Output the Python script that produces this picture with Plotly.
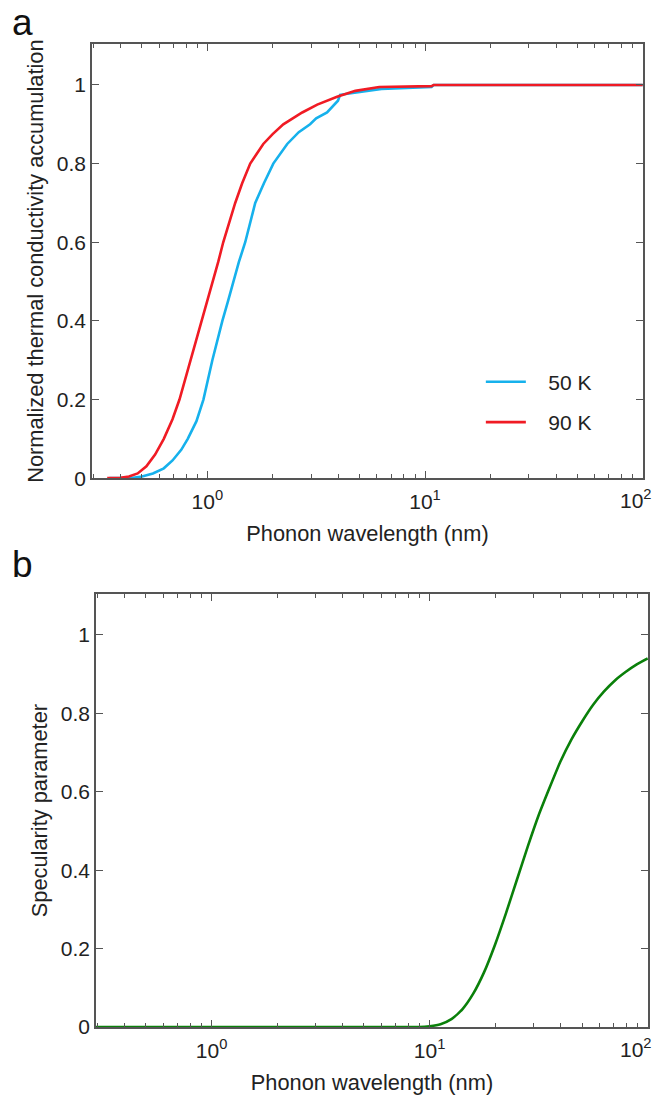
import plotly.graph_objects as go

# ---- Data ----
# Panel a: normalized thermal conductivity accumulation vs phonon wavelength (log10 nm)
logx_50K = [-0.45, -0.35, -0.30, -0.25, -0.20, -0.16, -0.12, -0.09, -0.05, -0.018, 0.023, 0.045,
            0.069, 0.095, 0.119, 0.145, 0.174, 0.197, 0.22, 0.26, 0.303, 0.367, 0.42, 0.472,
            0.50, 0.55, 0.60, 0.61, 0.73, 0.80, 1.03, 1.04, 2.0]
acc_50K = [0.0, 0.0, 0.004, 0.012, 0.025, 0.045, 0.072, 0.10, 0.145, 0.20, 0.30, 0.35,
           0.40, 0.45, 0.50, 0.55, 0.60, 0.65, 0.70, 0.75, 0.80, 0.85, 0.88, 0.90,
           0.915, 0.93, 0.96, 0.975, 0.985, 0.99, 0.995, 1.0, 1.0]

logx_90K = [-0.46, -0.40, -0.36, -0.32, -0.28, -0.24, -0.20, -0.16, -0.128, -0.10, -0.078, -0.05,
            -0.028, 0.0, 0.023, 0.05, 0.073, 0.10, 0.128, 0.16, 0.197, 0.257, 0.30, 0.349,
            0.436, 0.505, 0.596, 0.68, 0.79, 1.03, 1.04, 2.0]
acc_90K = [0.0, 0.001, 0.004, 0.012, 0.03, 0.06, 0.10, 0.15, 0.20, 0.255, 0.30, 0.35,
           0.40, 0.45, 0.50, 0.55, 0.60, 0.65, 0.70, 0.75, 0.80, 0.85, 0.875, 0.90,
           0.93, 0.95, 0.97, 0.985, 0.995, 0.997, 1.0, 1.0]

# Panel b: specularity parameter vs phonon wavelength (log10 nm)
logx_spec = [-0.53, 0.90, 0.95, 1.0, 1.05, 1.10, 1.15, 1.20, 1.25, 1.30, 1.35, 1.40, 1.45,
             1.50, 1.55, 1.60, 1.65, 1.70, 1.75, 1.80, 1.85, 1.90, 1.95, 2.0]
spec = [0.0, 0.0, 0.0, 0.002, 0.007, 0.02, 0.045, 0.085, 0.14, 0.21, 0.29, 0.375, 0.46,
        0.54, 0.61, 0.677, 0.733, 0.78, 0.822, 0.856, 0.884, 0.906, 0.925, 0.94]

x_tickvals = [1, 10, 100]
x_ticktext = ["10<sup>0</sup>", "10<sup>1</sup>", "10<sup>2</sup>"]
y_tickvals = [0, 0.2, 0.4, 0.6, 0.8, 1.0]
y_ticktext = ["0", "0.2", "0.4", "0.6", "0.8", "1"]

to_lin = lambda arr: [10 ** v for v in arr]

BLUE = "#16B1EC"
RED = "#F01B24"
GREEN = "#0A800A"
AX = "#555555"
FONT = "Liberation Sans, Arial, sans-serif"
FS = 21
FT = 21.8
NB = "\u00a0\u00a0\u00a0"

minor_vals = [m * 10 ** d for d in (-1, 0, 1) for m in range(2, 10)]

fig = go.Figure()
fig.add_trace(go.Scatter(x=to_lin(logx_50K), y=acc_50K, mode="lines", name=NB + "50 K",
                         line=dict(color=BLUE, width=2.6),
                         xaxis="x", yaxis="y", legendgroup="a"))
fig.add_trace(go.Scatter(x=to_lin(logx_90K), y=acc_90K, mode="lines", name=NB + "90 K",
                         line=dict(color=RED, width=2.6),
                         xaxis="x", yaxis="y", legendgroup="b"))
fig.add_trace(go.Scatter(x=to_lin(logx_spec), y=spec, mode="lines", name="spec",
                         line=dict(color=GREEN, width=2.6, shape="spline", smoothing=0.5),
                         xaxis="x2", yaxis="y2", showlegend=False))

def xax(domain, anchor):
    return dict(type="log", range=[-0.53, 2.0015], domain=domain, anchor=anchor,
                tickvals=x_tickvals, ticktext=x_ticktext, ticks="inside", ticklen=7,
                tickwidth=1.3, tickcolor=AX, showline=True, linecolor=AX, linewidth=1.6,
                mirror="ticks", showgrid=False, zeroline=False, ticklabelstandoff=4,
                minor=dict(tickvals=minor_vals, ticks="inside", ticklen=4, tickwidth=1.1,
                           tickcolor=AX, showgrid=False),
                tickfont=dict(size=FS, color="#222"),
                title=dict(text="Phonon wavelength (nm)", font=dict(size=FT, color="#222"),
                           standoff=14))

def yax(domain, anchor, title):
    return dict(range=[0, 1.104], domain=domain, anchor=anchor,
                tickvals=y_tickvals, ticktext=y_ticktext, ticks="inside", ticklen=7,
                tickwidth=1.3, tickcolor=AX, showline=True, linecolor=AX, linewidth=1.6,
                mirror="ticks", showgrid=False, zeroline=False,
                tickfont=dict(size=FS, color="#222"),
                title=dict(text=title, font=dict(size=FT, color="#222"), standoff=7))

# The last decade label sits at the page edge; draw it right-aligned inside the page
edge_labels = [
    dict(text=x_ticktext[-1], x=1.0, xref="paper", xanchor="right", xshift=-2,
         y=0, yref=yr, yanchor="top", yshift=-6, showarrow=False,
         font=dict(size=FS, color="#222", family=FONT))
    for yr in ("y", "y2")
]

fig.update_layout(
    width=656, height=1097,
    margin=dict(l=0, r=0, t=0, b=0),
    paper_bgcolor="white", plot_bgcolor="white",
    font=dict(family=FONT, color="#222"),
    xaxis=xax([0.1402, 0.9802], "y"),
    yaxis=yax([0.5597, 0.9594], "x", "Normalized thermal conductivity accumulation"),
    xaxis2=xax([0.1463, 0.9878], "y2"),
    yaxis2=yax([0.0543, 0.4529], "x2", "Specularity parameter"),
    legend=dict(x=0.733, y=0.667, xanchor="left", yanchor="top", bgcolor="rgba(0,0,0,0)",
                font=dict(size=FS, color="#222"), tracegroupgap=10, itemwidth=40),
    annotations=[
        dict(text="a", x=0.015, y=1.0, xref="paper", yref="paper", xanchor="left",
             yanchor="top", showarrow=False, font=dict(size=37, color="#111", family=FONT)),
        dict(text="b", x=0.015, y=0.5005, xref="paper", yref="paper", xanchor="left",
             yanchor="top", showarrow=False, font=dict(size=37, color="#111", family=FONT)),
    ] + edge_labels,
)

fig.write_html("out.html")
